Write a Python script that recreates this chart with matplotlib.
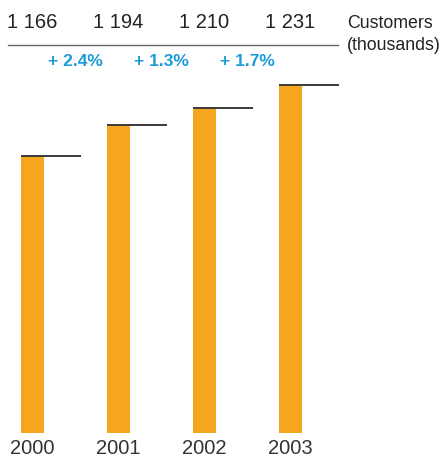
import matplotlib
matplotlib.use("Agg")
from matplotlib import pyplot as plt
from matplotlib import transforms
from matplotlib.lines import Line2D

years = ["2000", "2001", "2002", "2003"]
customers = [1166, 1194, 1210, 1231]
growth = ["+ 2.4%", "+ 1.3%", "+ 1.7%"]

W, H = 440, 465
plt.rcParams['font.family'] = ['Liberation Sans', 'DejaVu Sans']

fig = plt.figure(figsize=(W / 100, H / 100), dpi=100)
# axes covers the whole width; bars sit 86 px apart starting at 32.5 px
ax = fig.add_axes([0, 32 / H, 1, (H - 32) / H])
ax.set_xlim(-32.5 / 86, (W - 32.5) / 86)
ax.set_ylim(912.7, 912.7 + (H - 30) / 1.0998)
ax.axis("off")

x = list(range(len(years)))
bw = 23 / 86
ax.bar(x, [c - 912.7 for c in customers], bottom=912.7, width=bw, color="#F6A61E")
for i, c in enumerate(customers):
    ax.hlines(c, i - bw / 2, i - bw / 2 + 60 / 86, color="#3a3a3a", lw=1.4)

# value row above the rule, years below the bars
top = transforms.blended_transform_factory(ax.transData, fig.transFigure)
for i, c in enumerate(customers):
    s = f"{c:,}".replace(",", " ")
    ax.text(i, 1 - 23 / H, s, transform=top, ha="center", va="center",
            fontsize=14.5, color="#222222")
    ax.text(i, 1 - 448 / H, years[i], transform=top, ha="center", va="center",
            fontsize=14.5, color="#333333")
for i, g in enumerate(growth):
    ax.text(i + 0.5, 1 - 62 / H, g, transform=top, ha="center", va="center",
            fontsize=12.5, fontweight="bold", color="#1B9BD7")

fig.add_artist(Line2D([8 / W, 338 / W], [1 - 45 / H, 1 - 45 / H],
                      color="#666666", lw=1.0))
fig.text(347 / W, 1 - 23 / H, "Customers", ha="left", va="center",
         fontsize=12.8, color="#222222")
fig.text(347 / W, 1 - 45 / H, "(thousands)", ha="left", va="center",
         fontsize=12.8, color="#222222")

fig.savefig("out.png", dpi=100)
